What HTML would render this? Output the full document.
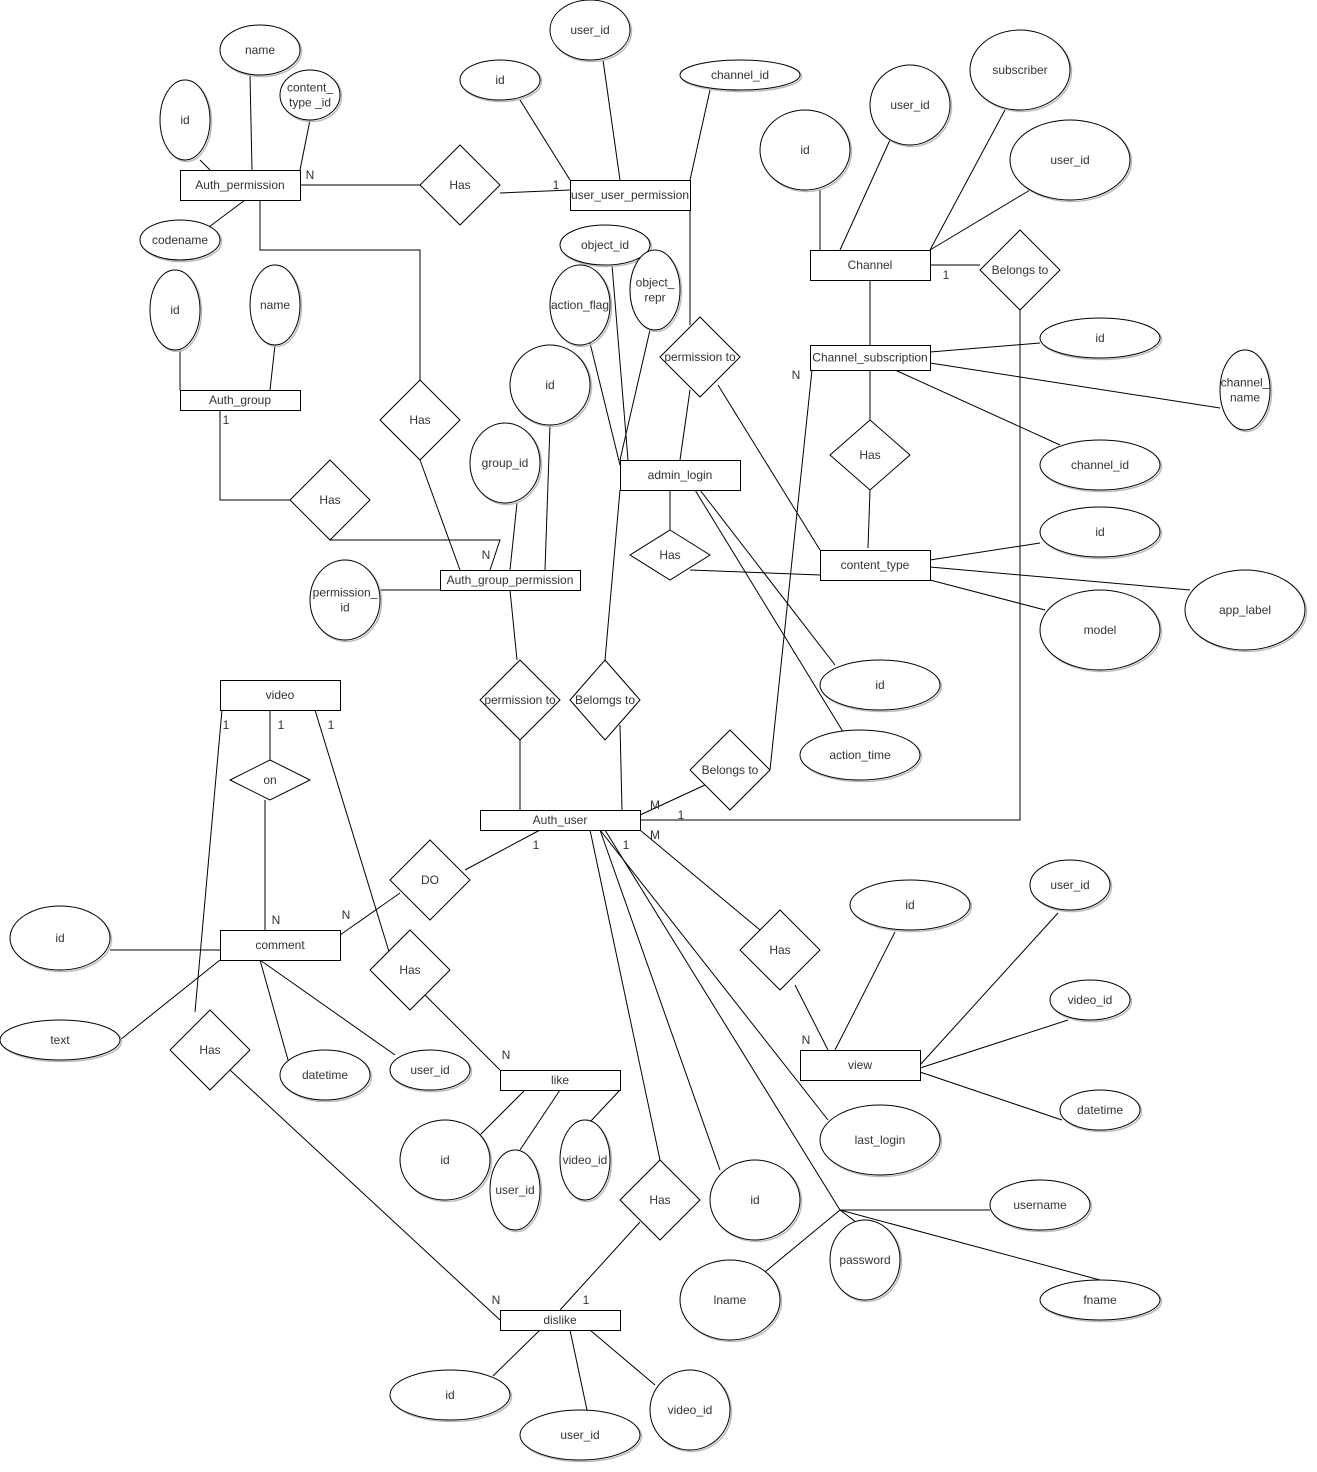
<!DOCTYPE html>
<html><head><meta charset="utf-8"><title>ER Diagram</title>
<style>
html,body{margin:0;padding:0;background:#fff;}
svg{display:block;}
text{font-family:"Liberation Sans",sans-serif;font-size:12px;fill:#333;}
</style></head>
<body>
<svg id="er" width="1317" height="1472" viewBox="0 0 1317 1472" xmlns="http://www.w3.org/2000/svg">
<rect width="1317" height="1472" fill="#fff"/>
<g id="lines"></g><g id="shapes"></g><g id="labels"></g>
</svg>
<script>
const NS="http://www.w3.org/2000/svg";
const entities=[
["Auth_permission",180,170,120,30],["user_user_permission",570,180,120,30],["Channel",810,250,120,30],
["Channel_subscription",810,345,120,25],["Auth_group",180,390,120,20],["admin_login",620,460,120,30],
["content_type",820,550,110,30],["Auth_group_permission",440,570,140,20],["video",220,680,120,30],
["Auth_user",480,810,160,20],["comment",220,930,120,30],["view",800,1050,120,30],
["like",500,1070,120,20],["dislike",500,1310,120,20]];
const attrs=[
["user_id",590,30,40,30],["id",500,80,40,20],["channel_id",740,75,60,15],["name",260,50,40,25],
["content_\ntype _id",310,95,30,25],["id",185,120,25,40],["subscriber",1020,70,50,40],["user_id",910,105,40,40],
["id",805,150,45,40],["user_id",1070,160,60,40],["codename",180,240,40,20],["object_id",605,245,45,20],
["action_flag",580,305,30,40],["object_\nrepr",655,290,25,40],["id",175,310,25,40],["name",275,305,25,40],
["id",1100,338,60,20],["channel_\nname",1245,390,25,40],["id",550,385,40,40],["group_id",505,463,35,40],
["channel_id",1100,465,60,25],["id",1100,532,60,25],["app_label",1245,610,60,40],["permission_\nid",345,600,35,40],
["model",1100,630,60,40],["id",880,685,60,25],["action_time",860,755,60,25],["id",60,938,50,32],
["user_id",1070,885,40,25],["id",910,905,60,25],["video_id",1090,1000,40,20],["text",60,1040,60,20],
["datetime",325,1075,45,25],["user_id",430,1070,40,20],["datetime",1100,1110,40,20],["last_login",880,1140,60,35],
["id",445,1160,45,40],["video_id",585,1160,25,40],["user_id",515,1190,25,40],["username",1040,1205,50,25],
["id",755,1200,45,40],["password",865,1260,35,40],["lname",730,1300,50,40],["fname",1100,1300,60,20],
["id",450,1395,60,25],["video_id",690,1410,40,40],["user_id",580,1435,60,25]];
const rels=[
["Has",460,185,40,40],["Belongs to",1020,270,40,40],["permission to",700,357,40,40],["Has",420,420,40,40],
["Has",870,455,40,35],["Has",330,500,40,40],["Has",670,555,40,25],["permission to",520,700,40,40],
["Belomgs to",605,700,35,40],["on",270,780,40,20],["Belongs to",730,770,40,40],["DO",430,880,40,40],
["Has",780,950,40,40],["Has",410,970,40,40],["Has",210,1050,40,40],["Has",660,1200,40,40]];
const links=[
[200,160,210,170],[252,170,250,75],[300,170,310,120],[245,200,205,230],[300,185,420,185],[500,193,570,190],
[260,200,260,250,420,250,420,380],[570,180,520,100],[620,180,603,60],[690,180,710,90],[690,210,690,325],
[690,390,680,460],[180,350,180,390],[275,345,270,390],[220,410,220,500,290,500],[330,540,500,540,490,570],
[420,460,460,570],[380,590,440,590],[517,503,510,570],[550,425,545,570],[510,590,517,660],[520,740,520,810],
[605,660,620,490],[650,330,620,460],[620,725,622,810],[590,343,620,465],[612,265,628,460],[670,490,670,530],
[690,570,820,575],[700,490,835,665],[695,490,845,735],[718,385,820,550],[820,190,820,250],[890,140,840,250],
[1005,110,930,250],[1030,190,930,250],[930,265,980,265],[870,280,870,345],[1020,310,1020,820,640,820],
[930,352,1040,343],[930,363,1220,408],[895,370,1060,445],[870,370,870,420],[870,490,868,548],[812,370,770,770],
[705,785,640,815],[930,560,1040,543],[930,567,1190,590],[930,580,1045,610],[222,710,195,1012],[270,710,270,760],
[265,800,265,930],[315,710,390,955],[110,950,220,950],[220,960,120,1040],[260,960,288,1060],[260,960,395,1055],
[340,935,400,893],[465,870,540,830],[425,995,500,1070],[230,1070,500,1320],[525,1090,480,1135],[560,1090,520,1150],
[620,1090,590,1122],[640,830,760,930],[795,985,828,1050],[600,830,828,1120],[600,830,720,1170],[590,830,660,1160],
[640,1222,560,1310],[605,830,840,1210,860,1225],[765,1272,840,1210,990,1210],[840,1210,1100,1280],
[835,1050,895,932],[920,1065,1058,913],[920,1068,1068,1020],[920,1072,1062,1120],[540,1330,493,1376],
[570,1330,587,1410],[590,1330,655,1385]];
const cards=[["N",310,179],["1",556,189],["1",946,279],["N",796,379],["1",226,424],["N",486,559],["1",226,729],
["1",281,729],["1",331,729],["M",655,809],["1",681,819],["M",655,839],["1",536,849],["1",626,849],["N",276,924],
["N",346,919],["N",506,1059],["N",806,1044],["N",496,1304],["1",586,1304]];

const L=document.getElementById('lines'),S=document.getElementById('shapes'),T=document.getElementById('labels');
function mk(tag,parent,at){const e=document.createElementNS(NS,tag);for(const k in at)e.setAttribute(k,at[k]);parent.appendChild(e);return e;}
function label(g,txt,cx,cy){const parts=txt.split("\n");const t=mk('text',g,{x:cx,y:cy-(parts.length-1)*7.5+4,'text-anchor':'middle'});
parts.forEach((p,i)=>{const s=mk('tspan',t,{x:cx,dy:i?15:0});s.textContent=p;});return t;}
links.forEach(p=>{const pts=[];for(let i=0;i<p.length;i+=2)pts.push(p[i]+','+p[i+1]);
const e=mk('polyline',L,{points:pts.join(' '),fill:'none',stroke:'#000','stroke-width':1});

});
entities.forEach(([n,x,y,w,h])=>{const g=mk('g',S,{});


mk('rect',g,{x:x+0.5,y:y+0.5,width:w,height:h,fill:'#fff',stroke:'#000','stroke-width':1});label(g,n,x+w/2,y+h/2);});
attrs.forEach(([n,cx,cy,rx,ry])=>{const g=mk('g',S,{});


mk('ellipse',g,{cx:cx+1.5,cy:cy+1.5,rx:rx,ry:ry,fill:'none',stroke:'#bbb','stroke-width':1.5});
mk('ellipse',g,{cx:cx,cy:cy,rx:rx,ry:ry,fill:'#fff',stroke:'#000','stroke-width':1});label(g,n,cx,cy);});
rels.forEach(([n,cx,cy,hw,hh])=>{const g=mk('g',S,{});


mk('polygon',g,{points:`${cx},${cy-hh} ${cx+hw},${cy} ${cx},${cy+hh} ${cx-hw},${cy}`,fill:'#fff',stroke:'#000','stroke-width':1});label(g,n,cx,cy);});
cards.forEach(([c,x,y])=>{const t=mk('text',T,{x:x,y:y,'text-anchor':'middle'});t.textContent=c;

});
</script>
</body></html>
